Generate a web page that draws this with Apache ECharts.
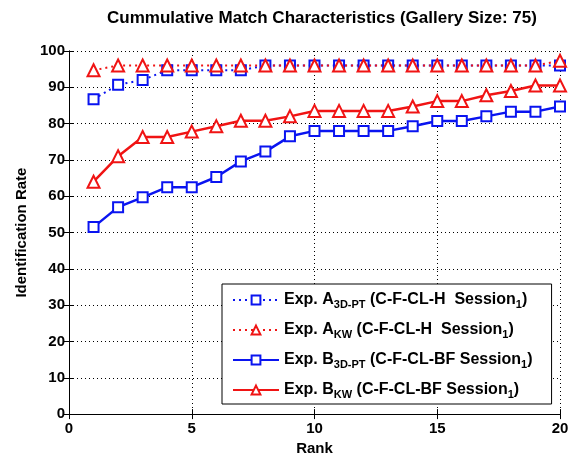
<!DOCTYPE html>
<html>
<head>
<meta charset="utf-8">
<script src="https://cdn.jsdelivr.net/npm/echarts@6/dist/echarts.min.js"></script>
<style>
  html, body { margin: 0; padding: 0; background: #fff; }
  #chart { width: 573px; height: 461px; }
</style>
</head>
<body>
<div id="chart"></div>
<script>
// data
var ranks = [1, 2, 3, 4, 5, 6, 7, 8, 9, 10, 11, 12, 13, 14, 15, 16, 17, 18, 19, 20];
var expA3D = [86.7, 90.7, 92, 94.7, 94.7, 94.7, 94.7, 96, 96, 96, 96, 96, 96, 96, 96, 96, 96, 96, 96, 96];
var expAKW = [94.7, 96, 96, 96, 96, 96, 96, 96, 96, 96, 96, 96, 96, 96, 96, 96, 96, 96, 96, 97.3];
var expB3D = [51.5, 57, 59.7, 62.5, 62.5, 65.3, 69.6, 72.3, 76.5, 78, 78, 78, 78, 79.3, 80.7, 80.7, 82, 83.3, 83.3, 84.7];
var expBKW = [64, 71, 76.3, 76.3, 77.8, 79.3, 80.8, 80.8, 82, 83.5, 83.5, 83.5, 83.5, 84.7, 86.2, 86.2, 87.8, 89, 90.5, 90.5];
var xTicks = [0, 5, 10, 15, 20];
var yTicks = [0, 10, 20, 30, 40, 50, 60, 70, 80, 90, 100];

var seriesNames = ['A3D', 'AKW', 'B3D', 'BKW'];
// legend texts with subscripts
var legendText = {
    A3D: '{t|Exp. A}{s|3D-PT}{t| (C-F-CL-H  Session}{s|1}{t|)}',
    AKW: '{t|Exp. A}{s|KW}{t| (C-F-CL-H  Session}{s|1}{t|)}',
    B3D: '{t|Exp. B}{s|3D-PT}{t| (C-F-CL-BF Session}{s|1}{t|)}',
    BKW: '{t|Exp. B}{s|KW}{t| (C-F-CL-BF Session}{s|1}{t|)}'
};

var BLUE = '#0a14f0';
var RED = '#f01414';
var FONT = 'Arial, "Liberation Sans", sans-serif';

function pairs(vals) {
    return ranks.map(function (r, i) { return [r, vals[i]]; });
}

function makeSeries(name, vals, color, dotted, symbol) {
    return {
        name: name,
        type: 'line',
        data: pairs(vals),
        symbol: symbol,
        symbolSize: symbol === 'triangle' ? 12 : 10,
        showSymbol: true,
        lineStyle: { color: color, width: dotted ? 2 : 2.5, type: dotted ? [2, 4] : 'solid' },
        itemStyle: { color: '#fff', borderColor: color, borderWidth: 2 },
        emphasis: { disabled: true },
        animation: false,
        z: dotted ? 3 : 2
    };
}

var myChart = echarts.init(document.getElementById('chart'));

var axisText = { color: '#000', fontFamily: FONT, fontWeight: 'bold', fontSize: 15 };

var option = {
    backgroundColor: '#fff',
    animation: false,
    title: {
        text: 'Cummulative Match Characteristics (Gallery Size: 75)',
        left: 317,
        textAlign: 'center',
        top: 5,
        textStyle: { color: '#000', fontFamily: FONT, fontWeight: 'bold', fontSize: 17 }
    },
    grid: { left: 69, right: 13, top: 51, bottom: 45 },
    legend: {
        orient: 'vertical',
        left: 222,
        top: 284,
        padding: [6, 19, 4, 10],
        itemGap: 10,
        itemWidth: 46,
        itemHeight: 11,
        backgroundColor: '#fff',
        borderColor: '#000',
        borderWidth: 1,
        data: seriesNames,
        formatter: function (name) { return legendText[name]; },
        textStyle: {
            rich: {
                t: { color: '#000', fontFamily: FONT, fontWeight: 'bold', fontSize: 16, lineHeight: 21 },
                s: { color: '#000', fontFamily: FONT, fontWeight: 'bold', fontSize: 11, lineHeight: 21, padding: [9, 0, 0, 0] }
            }
        }
    },
    xAxis: [{
        type: 'value',
        min: 0, max: 20, interval: 5,
        name: 'Rank',
        nameLocation: 'middle',
        nameGap: 26,
        nameTextStyle: axisText,
        axisLine: { show: true, lineStyle: { color: '#000', width: 1 } },
        axisTick: { show: true, inside: true, length: 5, lineStyle: { color: '#000' } },
        axisLabel: Object.assign({ margin: 7, formatter: function (v) { return xTicks.indexOf(v) >= 0 ? v : ''; } }, axisText),
        splitLine: { show: true, lineStyle: { color: '#000', type: [1, 3], width: 1 } }
    }, {
        type: 'value',
        position: 'top',
        min: 0, max: 20, interval: 5,
        axisLine: { show: true, lineStyle: { color: '#000', width: 1 } },
        axisTick: { show: true, inside: true, length: 5, lineStyle: { color: '#000' } },
        axisLabel: { show: false },
        splitLine: { show: false }
    }],
    yAxis: [{
        type: 'value',
        min: 0, max: 100, interval: 10,
        name: 'Identification Rate',
        nameLocation: 'middle',
        nameGap: 26,
        nameTextStyle: axisText,
        axisLine: { show: true, lineStyle: { color: '#000', width: 1 } },
        axisTick: { show: true, inside: true, length: 5, lineStyle: { color: '#000' } },
        axisLabel: Object.assign({ margin: 4, formatter: function (v) { return yTicks.indexOf(v) >= 0 ? v : ''; } }, axisText),
        splitLine: { show: true, lineStyle: { color: '#000', type: [1, 3], width: 1 } }
    }, {
        type: 'value',
        position: 'right',
        min: 0, max: 100, interval: 10,
        axisLine: { show: true, lineStyle: { color: '#000', width: 1 } },
        axisTick: { show: true, inside: true, length: 5, lineStyle: { color: '#000' } },
        axisLabel: { show: false },
        splitLine: { show: false }
    }],
    series: [
        makeSeries('A3D', expA3D, BLUE, true, 'rect'),
        makeSeries('AKW', expAKW, RED, true, 'triangle'),
        makeSeries('B3D', expB3D, BLUE, false, 'rect'),
        makeSeries('BKW', expBKW, RED, false, 'triangle')
    ]
};

myChart.setOption(option);
</script>
</body>
</html>
